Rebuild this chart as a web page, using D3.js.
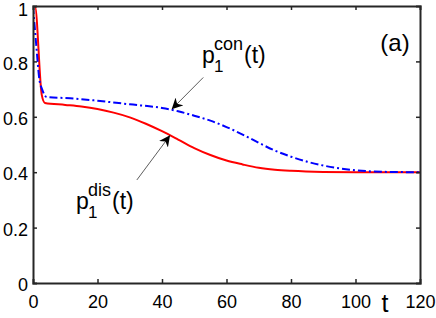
<!DOCTYPE html>
<html>
<head>
<meta charset="utf-8">
<script src="https://cdn.jsdelivr.net/npm/d3@7"></script>
<style>
  body { margin: 0; background: #fff; }
  svg { display: block; font-family: "Liberation Sans", Arial, sans-serif; }
</style>
</head>
<body>
<svg width="436" height="318"></svg>
<script>
// values
let tDis = [0, 0.6, 2.7, 3.7, 10, 15, 20, 25, 30, 35, 40, 45, 50, 55, 60, 65, 70, 75, 80, 90, 100, 120];
let pDis = [1, 1, 0.68, 0.65, 0.643, 0.637, 0.628, 0.615, 0.598, 0.575, 0.548, 0.518, 0.487, 0.462, 0.442, 0.428, 0.416, 0.409, 0.405, 0.401, 0.400, 0.400];

let tCon = [0, 1, 2, 2.8, 4.3, 11.5, 20, 30, 40, 45, 50, 55, 60, 65, 70, 75, 80, 85, 90, 95, 100, 110, 120];
let pCon = [1, 0.86, 0.733, 0.70, 0.671, 0.667, 0.658, 0.645, 0.632, 0.620, 0.604, 0.586, 0.563, 0.536, 0.506, 0.478, 0.456, 0.438, 0.424, 0.414, 0.407, 0.401, 0.400];

let xTicks = [0, 20, 40, 60, 80, 100, 120];
let yTicks = [0, 0.2, 0.4, 0.6, 0.8, 1];

const svg = d3.select('svg');
const mLeft = 33, mRight = 420, mTop = 6, mBottom = 283;

const x = d3.scaleLinear().domain([0, 120]).range([mLeft, mRight]);
const y = d3.scaleLinear().domain([0, 1]).range([mBottom, mTop]);

const disData = tDis.map((t, i) => ({t: t, v: pDis[i]}));
const conData = tCon.map((t, i) => ({t: t, v: pCon[i]}));

const line = d3.line()
  .x(d => x(d.t))
  .y(d => y(d.v))
  .curve(d3.curveMonotoneX);

svg.append('clipPath').attr('id', 'plot')
  .append('rect')
  .attr('x', mLeft).attr('y', mTop)
  .attr('width', mRight - mLeft).attr('height', mBottom - mTop);

const g = svg.append('g').attr('clip-path', 'url(#plot)');

g.append('path')
  .datum(disData)
  .attr('d', line)
  .attr('fill', 'none')
  .attr('stroke', '#ff0000')
  .attr('stroke-width', 2);

g.append('path')
  .datum(conData)
  .attr('d', line)
  .attr('fill', 'none')
  .attr('stroke', '#0000ff')
  .attr('stroke-width', 2)
  .attr('stroke-dasharray', '8,3,2,3');

// axes, ticks inside, box on
const axisColor = '#262626';
const fs = 18;

const xAxis = svg.append('g').attr('transform', `translate(0,${mBottom})`)
  .call(d3.axisBottom(x).tickValues(xTicks).tickSize(-4).tickPadding(12).tickFormat(d3.format('d')));
const xTop = svg.append('g').attr('transform', `translate(0,${mTop})`)
  .call(d3.axisTop(x).tickValues(xTicks).tickSize(-4).tickFormat(''));
const yAxis = svg.append('g').attr('transform', `translate(${mLeft},0)`)
  .call(d3.axisLeft(y).tickValues(yTicks).tickSize(-4).tickPadding(5).tickFormat(d => d === 0 || d === 1 ? d3.format('d')(d) : d3.format('.1f')(d)));
const yRight = svg.append('g').attr('transform', `translate(${mRight},0)`)
  .call(d3.axisRight(y).tickValues(yTicks).tickSize(-4).tickFormat(''));

[xAxis, xTop, yAxis, yRight].forEach(a => {
  a.select('.domain').attr('stroke', axisColor).attr('stroke-width', 2);
  a.selectAll('.tick line').attr('stroke', axisColor).attr('stroke-width', 1.5);
  a.selectAll('text').attr('fill', '#000').style('font-size', fs + 'px')
    .style('font-family', '"Liberation Sans", Arial, sans-serif');
});
yAxis.selectAll('.tick text').attr('y', d => d === 1 ? 4 : 2);
xAxis.selectAll('.tick').filter(d => d === 0 || d === 120).select('line').remove();
xTop.selectAll('.tick').filter(d => d === 0 || d === 120).select('line').remove();
yAxis.selectAll('.tick').filter(d => d === 0 || d === 1).select('line').remove();
yRight.selectAll('.tick').filter(d => d === 0 || d === 1).select('line').remove();

// axis label t
svg.append('text')
  .attr('x', 385).attr('y', 312)
  .attr('text-anchor', 'middle')
  .style('font-size', '25px')
  .text('t');

svg.append('text')
  .attr('x', 395).attr('y', 51)
  .attr('text-anchor', 'middle')
  .style('font-size', '24px')
  .text('(a)');

// annotations
svg.append('defs').append('marker')
  .attr('id', 'arr')
  .attr('viewBox', '0 0 10 10')
  .attr('refX', 10).attr('refY', 5)
  .attr('markerWidth', 11).attr('markerHeight', 11)
  .attr('markerUnits', 'userSpaceOnUse')
  .attr('orient', 'auto')
  .append('path')
  .attr('d', 'M0,0 L10,5 L0,10 L3,5 Z')
  .attr('fill', '#000');

function label(px, py, sup) {
  let lg = svg.append('g');
  lg.append('text').attr('x', px).attr('y', py).style('font-size', '23px').text('p');
  lg.append('text').attr('x', px + 12).attr('y', py + 9).style('font-size', '17px').text('1');
  let s = lg.append('text').attr('x', px + 12).attr('y', py - 13).style('font-size', '18px').text(sup);
  let w = s.node().getComputedTextLength();
  lg.append('text').attr('x', px + 13 + w).attr('y', py).style('font-size', '23px').text('(t)');
}

let arrows = [
  {t0: 52.8, v0: 0.742, t1: 43, v1: 0.627},
  {t0: 32.2, v0: 0.372, t1: 42.5, v1: 0.533}
];
arrows.forEach(a => {
  svg.append('line')
    .attr('x1', x(a.t0)).attr('y1', y(a.v0))
    .attr('x2', x(a.t1)).attr('y2', y(a.v1))
    .attr('stroke', '#333').attr('stroke-width', 0.8)
    .attr('marker-end', 'url(#arr)');
});

label(202, 63, 'con');
label(76, 209, 'dis');
</script>
</body>
</html>
